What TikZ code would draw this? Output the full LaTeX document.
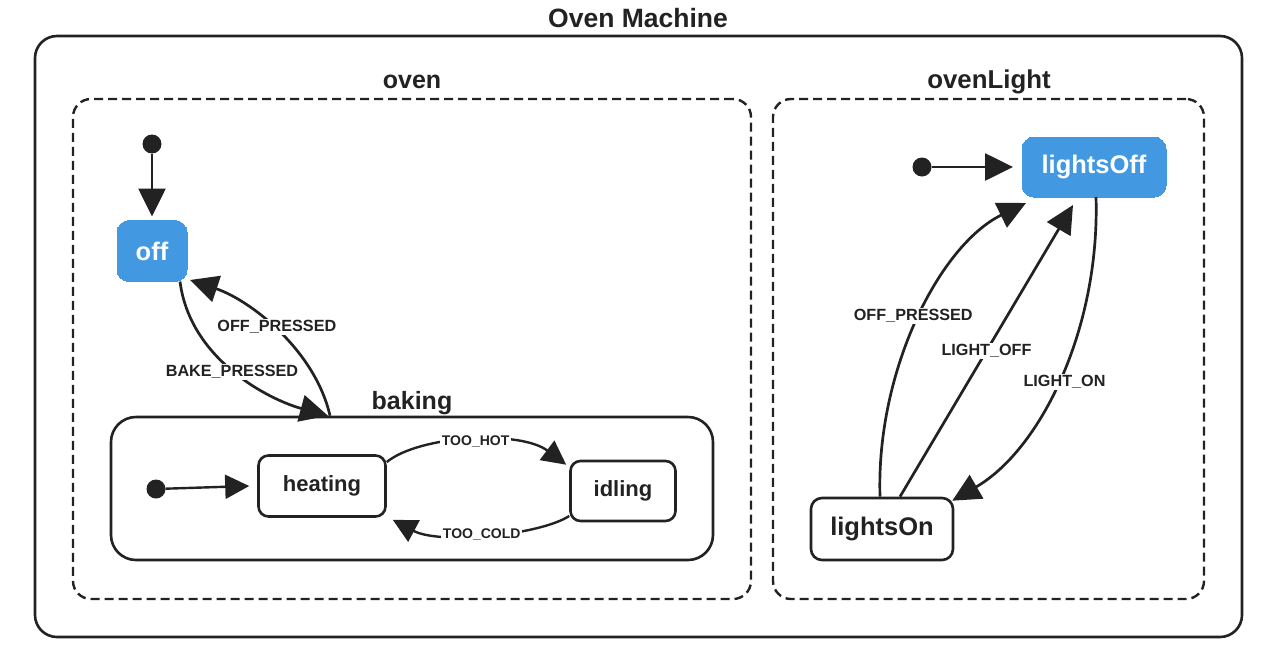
\documentclass[tikz,border=0pt]{standalone}
\usepackage{fontspec}
\setmainfont{Liberation Sans}
\usetikzlibrary{arrows.meta}
\definecolor{stateblue}{RGB}{66,153,225}
\definecolor{ink}{RGB}{34,34,34}
\tikzset{
  x=1pt, y=-1pt,
  frame/.style={draw=ink, line width=2.6pt, rounded corners=22pt},
  region/.style={draw=ink, line width=2.4pt, dash pattern=on 9pt off 5pt, rounded corners=18pt},
  title/.style={font=\bfseries\fontsize{25}{28}\selectfont, text=ink, inner sep=0pt},
  statebox/.style={draw=ink, fill=white, line width=2.6pt, rounded corners=11pt, text=ink, inner sep=0pt, font=\bfseries\fontsize{25.5}{28}\selectfont},
  smallstate/.style={statebox, font=\bfseries\fontsize{22}{24}\selectfont, rounded corners=10pt},
  active/.style={draw=stateblue, fill=stateblue, line width=0pt, rounded corners=12pt, text=white, inner sep=0pt, font=\bfseries\fontsize{25.5}{28}\selectfont},
  initdot/.style={circle, fill=ink, minimum size=19pt, inner sep=0pt},
  trans/.style={draw=ink, line width=2.7pt, -{Triangle[length=28pt,width=27pt]}},
  smalltrans/.style={draw=ink, line width=2.4pt, -{Triangle[length=24pt,width=24pt]}},
  elabel/.style={fill=white, text=ink, inner sep=1.5pt, font=\bfseries\fontsize{16.2}{18}\selectfont},
  selabel/.style={elabel, font=\bfseries\fontsize{14}{16}\selectfont},
}
\begin{document}
\begin{tikzpicture}
\useasboundingbox (0,0) rectangle (1278,670);
\fill[white] (0,0) rectangle (1278,670);

% containers
\node[frame, minimum width=1207pt, minimum height=601pt] (machine) at (638.5,336.5) {};
\node[title, font=\bfseries\fontsize{26.5}{29}\selectfont] (machinet) at (638,18) {Oven Machine};
\node[region, minimum width=678pt, minimum height=500pt] (oven) at (412,349) {};
\node[title] (ovent) at (412,82) {oven};
\node[region, minimum width=431pt, minimum height=500pt] (ovenlight) at (988.5,349) {};
\node[title, font=\bfseries\fontsize{25.8}{28}\selectfont] (ovenlightt) at (989,82) {ovenLight};
\node[frame, rounded corners=25pt, minimum width=602pt, minimum height=143pt] (baking) at (412,488.5) {};
\node[title] (bakingt) at (412,403) {baking};

% states
\node[active, minimum width=70pt, minimum height=61pt] (off) at (152,251) {off};
\node[smallstate, minimum width=127pt, minimum height=61pt] (heating) at (322,486) {heating};
\node[smallstate, minimum width=105pt, minimum height=60pt] (idling) at (623,491) {idling};
\node[active, minimum width=144pt, minimum height=60pt] (lightsOff) at (1094,167) {lightsOff};
\node[statebox, minimum width=142pt, minimum height=62pt] (lightsOn) at (882,529) {lightsOn};

% initial dots
\node[initdot] (i1) at (152,144) {};
\node[initdot] (i2) at (156,489) {};
\node[initdot] (i3) at (922,167) {};

\draw[trans] (i1) -- ([yshift=4pt]off.north);
\draw[smalltrans] (i2) -- ([xshift=-8pt]heating.west);
\draw[trans] (i3) -- ([xshift=-9pt]lightsOff.west);

% oven transitions
\draw[trans] ([xshift=28pt]off.south) .. controls (190,360) and (270,400) .. ([xshift=-84pt]baking.north)
  node[elabel, pos=0.5, xshift=-4pt] {BAKE\_PRESSED};
\draw[trans] ([xshift=-82pt]baking.north) .. controls (315,350) and (250,300) .. ([xshift=38pt,yshift=-29pt]off.center)
  node[elabel, pos=0.5, yshift=4pt] {OFF\_PRESSED};

% baking transitions
\draw[smalltrans] ([yshift=24pt]heating.east) .. controls (420,435) and (520,430) .. ([xshift=-3pt,yshift=-5pt]idling.north west)
  node[selabel, pos=0.5, xshift=4pt, yshift=-1pt] {TOO\_HOT};
\draw[smalltrans] ([yshift=-25pt]idling.west) .. controls (540,535) and (440,545) .. ([xshift=6pt,yshift=-2pt]heating.south east)
  node[selabel, pos=0.5, xshift=-6pt] {TOO\_COLD};

% ovenLight transitions
\draw[trans] ([xshift=-2pt]lightsOn.north) .. controls (876,370) and (940,245) .. ([xshift=4pt,yshift=-6pt]lightsOff.south west)
  node[elabel, pos=0.5, xshift=-6pt, yshift=2pt] {OFF\_PRESSED};
\draw[trans] ([xshift=18pt]lightsOn.north) -- ([xshift=-21pt,yshift=-8pt]lightsOff.south)
  node[elabel, pos=0.5] {LIGHT\_OFF};
\draw[trans] ([xshift=2pt]lightsOff.south) .. controls (1100,330) and (1040,450) .. ([xshift=-2pt,yshift=-4pt]lightsOn.north east)
  node[elabel, pos=0.5, xshift=6pt, yshift=-2pt] {LIGHT\_ON};
\end{tikzpicture}
\end{document}
